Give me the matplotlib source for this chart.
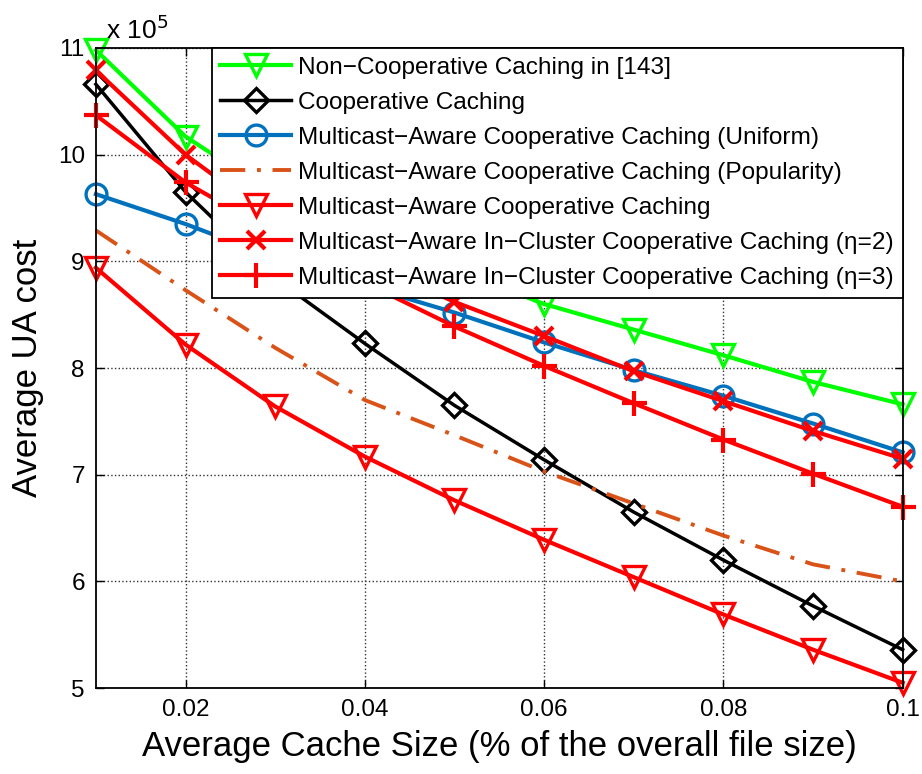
import matplotlib
matplotlib.use('Agg')
import matplotlib.pyplot as plt

plt.rcParams['font.family'] = ['Liberation Sans', 'DejaVu Sans']

# cache size (fraction of overall file size)
cache_size = [0.01, 0.02, 0.03, 0.04, 0.05, 0.06, 0.07, 0.08, 0.09, 0.10]

# average UA cost, in units of 1e5
non_coop = [10.98, 10.17, 9.62, 9.26, 8.93, 8.60, 8.36, 8.12, 7.87, 7.66]
coop = [10.66, 9.65, 8.84, 8.23, 7.65, 7.14, 6.65, 6.20, 5.77, 5.36]
mc_uniform = [9.63, 9.35, 9.03, 8.77, 8.52, 8.24, 7.98, 7.74, 7.48, 7.21]
mc_popularity = [9.29, 8.73, 8.19, 7.70, 7.37, 7.03, 6.73, 6.43, 6.16, 6.00]
mc_coop = [8.94, 8.22, 7.64, 7.17, 6.76, 6.39, 6.04, 5.69, 5.36, 5.05]
mc_cluster_eta2 = [10.79, 10.00, 9.38, 9.00, 8.62, 8.30, 7.97, 7.69, 7.41, 7.15]
mc_cluster_eta3 = [10.37, 9.74, 9.26, 8.80, 8.39, 8.02, 7.67, 7.33, 7.01, 6.70]

labels = [
    'Non\u2212Cooperative Caching in [143]',
    'Cooperative Caching',
    'Multicast\u2212Aware Cooperative Caching (Uniform)',
    'Multicast\u2212Aware Cooperative Caching (Popularity)',
    'Multicast\u2212Aware Cooperative Caching',
    'Multicast\u2212Aware In\u2212Cluster Cooperative Caching (\u03b7=2)',
    'Multicast\u2212Aware In\u2212Cluster Cooperative Caching (\u03b7=3)',
]

fig = plt.figure(figsize=(9.22, 7.74), dpi=100)
ax = fig.add_axes([0.104, 0.111, 0.875, 0.827])

lw = 3.0
mew = 2.4
ax.plot(cache_size, non_coop, color='#00ff00', lw=lw, marker='v', ms=16, mfc='none', mew=mew, label=labels[0], clip_on=False)
ax.plot(cache_size, coop, color='black', lw=2.5, marker='D', ms=12, mfc='none', mew=mew, label=labels[1], clip_on=False)
ax.plot(cache_size, mc_uniform, color='#0072bd', lw=lw, marker='o', ms=15, mfc='none', mew=mew, label=labels[2], clip_on=False)
ax.plot(cache_size, mc_popularity, color='#d95319', lw=2.8, ls=(0, (6.5, 3, 1, 3)), label=labels[3], clip_on=False)
ax.plot(cache_size, mc_coop, color='red', lw=lw, marker='v', ms=16, mfc='none', mew=mew, label=labels[4], clip_on=False)
ax.plot(cache_size, mc_cluster_eta2, color='red', lw=lw, marker='x', ms=13, mew=3.0, label=labels[5], clip_on=False)
ax.plot(cache_size, mc_cluster_eta3, color='red', lw=lw, marker='+', ms=18, mew=3.0, label=labels[6], clip_on=False)

ax.set_xlim(0.01, 0.1)
ax.set_ylim(5, 11)
ax.set_xticks([0.02, 0.04, 0.06, 0.08, 0.1])
ax.set_xticklabels(['0.02', '0.04', '0.06', '0.08', '0.1'])
ax.set_yticks([5, 6, 7, 8, 9, 10, 11])
ax.tick_params(direction='in', labelsize=17.5, length=6, width=1, top=True, right=True, pad=8)
ax.grid(True, ls=':', color='#333333', lw=1.0)
for s in ax.spines.values():
    s.set_linewidth(1.3)

ax.set_xlabel('Average Cache Size (% of the overall file size)', fontsize=25, labelpad=6)
ax.set_ylabel('Average UA cost', fontsize=25, labelpad=10)
ax.text(0.012, 1.006, 'x 10$^5$', transform=ax.transAxes, fontsize=19, ha='left', va='bottom')

leg = ax.legend(loc='upper right', fontsize=17.6, frameon=True, fancybox=False,
                framealpha=1, edgecolor='black', borderaxespad=0, handlelength=2.9,
                handletextpad=0.3, labelspacing=0.53, borderpad=0.35)
leg.get_frame().set_linewidth(1.3)
leg.set_zorder(5)

fig.savefig('out.png', dpi=100)
